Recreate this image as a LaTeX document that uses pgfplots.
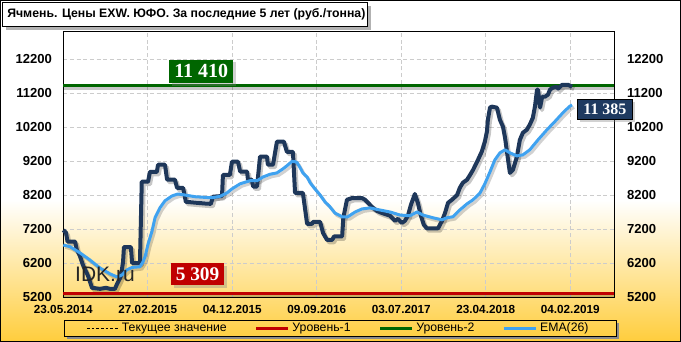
\documentclass[border=0pt]{standalone}
\usepackage{pgfplots}
\pgfplotsset{compat=1.18}
\usepackage{pgfplotstable}
\usetikzlibrary{shadows}
\usepackage{fontspec}
\setmainfont{Liberation Sans}
\newfontfamily\serifbf{Liberation Serif}
\definecolor{navy}{HTML}{1E375A}
\definecolor{ema}{HTML}{3FA2F0}
\definecolor{lvred}{HTML}{C00000}
\definecolor{lvgreen}{HTML}{006600}
\definecolor{bgy}{RGB}{255,205,60}
\definecolor{boxnavy}{HTML}{1F3A60}

\pgfplotstableread{
d v
0 7170
9 7090
14 6830
39 6830
45 6580
55 6410
65 6140
82 5820
95 5470
122 5440
141 5470
155 5440
171 5440
178 5580
185 5700
191 5820
198 6230
201 6670
224 6670
228 6200
254 6200
260 8590
281 8590
287 8880
310 8880
314 9090
337 9090
344 8650
370 8650
377 8410
397 8410
403 8150
406 8000
443 7970
470 7950
489 7940
496 8150
526 8170
529 8790
552 8790
559 9180
579 9180
586 8890
609 8890
612 8650
625 8650
629 8450
642 8450
652 9330
675 9330
678 9090
695 9090
708 9770
731 9770
741 9470
761 9470
768 8260
794 8260
808 7350
824 7350
828 7410
851 7410
861 7080
874 6880
891 6880
897 6980
924 6980
928 7530
940 8060
957 8110
990 8110
1000 8060
1010 7970
1023 7850
1040 7730
1056 7670
1083 7590
1099 7440
1109 7500
1122 7380
1132 7440
1142 7590
1152 7910
1165 8230
1175 7970
1185 7590
1195 7320
1205 7220
1242 7220
1255 7440
1265 7670
1275 7970
1288 8060
1305 8200
1314 8410
1324 8560
1338 8650
1348 8790
1358 8940
1374 9230
1387 9480
1397 9770
1404 10070
1407 10410
1414 10770
1420 10800
1437 10770
1447 10410
1457 10210
1464 9880
1474 9230
1480 8850
1490 8940
1503 9320
1513 9820
1523 10030
1536 10120
1546 10270
1556 10470
1563 10800
1570 11300
1573 11300
1580 10770
1587 11090
1596 11090
1606 11150
1613 11300
1623 11360
1636 11380
1640 11330
1653 11440
1673 11440
1686 11385
}\mainT

\pgfplotstableread{
d v
0 6730
22 6680
55 6500
88 6290
122 6050
155 5880
178 5790
195 5850
211 6000
228 6070
254 6090
264 6230
271 6390
281 6760
294 7140
304 7530
320 7820
337 8030
360 8170
380 8230
403 8200
436 8150
470 8130
493 8120
519 8160
542 8260
559 8380
586 8530
619 8620
642 8620
662 8730
685 8810
708 8850
728 8970
741 9060
758 9190
768 9180
775 9150
785 9000
794 8850
808 8730
818 8560
834 8380
851 8200
867 8000
884 7850
900 7670
924 7560
943 7560
967 7700
990 7790
1016 7820
1049 7760
1083 7700
1116 7610
1149 7590
1172 7700
1192 7610
1225 7530
1255 7470
1271 7530
1291 7560
1314 7760
1338 7940
1358 8060
1381 8260
1397 8530
1414 8880
1430 9230
1447 9440
1464 9530
1480 9440
1503 9350
1523 9380
1546 9530
1573 9820
1603 10120
1629 10360
1656 10620
1677 10800
1686 10850
}\emaT

\begin{document}
\begin{tikzpicture}
\useasboundingbox (0,0) rectangle (510.75pt,-256.5pt);
\begin{scope}[x=0.75pt,y=-0.75pt]
\fill[white] (0,0) rectangle (681,342);
\shade[top color=white, bottom color=bgy] (0,200) rectangle (681,342);
\draw[black, line width=0.75pt] (0.5,0.5) rectangle (680.5,341.5);
% title
\fill[black!30] (6,6) rectangle (371,30);
\filldraw[fill=white, draw=black, line width=0.75pt] (2.5,2.5) rectangle (367.5,26.5);
\node[anchor=west, inner sep=0pt, font=\bfseries\fontsize{9.2pt}{10pt}\selectfont] at (7,14.5) {Ячмень. Цены EXW. ЮФО. За последние 5 лет (руб./тонна)};
% legend frame
\fill[black!45] (67,336) rectangle (619,339);
\fill[black!45] (616,323) rectangle (619,339);
\draw[black, line width=0.75pt] (64,320) rectangle (616,336);
\end{scope}

\begin{axis}[
  at={(47.475pt,-222.75pt)}, anchor=south west,
  scale only axis, width=413.25pt, height=198.9pt,
  xmin=0, xmax=1826, ymin=5200, ymax=13000,
  scaled x ticks=false, scaled y ticks=false,
  xtick={0,280,...,1680},
  xticklabels={23.05.2014,27.02.2015,04.12.2015,09.09.2016,03.07.2017,23.04.2018,04.02.2019},
  ytick={5200,6200,7200,8200,9200,10200,11200,12200},
  yticklabels={5200,6200,7200,8200,9200,10200,11200,12200},
  grid=major,
  grid style={gray!40, dash pattern=on 3pt off 2pt, line width=0.5pt},
  major tick length=0pt,
  axis line style={black, line width=0.75pt},
  xticklabel style={font=\bfseries\fontsize{8.8pt}{9pt}\selectfont, yshift=-3pt},
  yticklabel style={font=\bfseries\fontsize{9.8pt}{10pt}\selectfont, xshift=-5pt},
  clip=false,
  legend style={at={(0.5,-0.1169)}, anchor=center, draw=none, fill=none,
    legend columns=4, font=\fontsize{9.2pt}{10pt}\selectfont,
    /tikz/every even column/.append style={column sep=19pt}},
  legend image code/.code={\draw[#1] (0pt,0pt) -- (24pt,0pt);},
]
% shadows
\addplot[forget plot, black, opacity=0.22, line width=2.25pt, yshift=-2.2pt] coordinates {(0,5309) (1826,5309)};
\addplot[forget plot, black, opacity=0.22, line width=2.25pt, yshift=-2.2pt] coordinates {(0,11410) (1826,11410)};
\addplot[forget plot, black, opacity=0.22, line width=3pt, xshift=1.5pt, yshift=-1.8pt, line join=round] table[x=d,y=v] {\mainT};
\addplot[forget plot, black, opacity=0.18, line width=2.25pt, xshift=1.5pt, yshift=-1.8pt, line join=round] table[x=d,y=v] {\emaT};
% series
\addplot[black, dash pattern=on 2pt off 1.5pt, line width=0.6pt] coordinates {(0,11385) (1826,11385)};
\addlegendentry{Текущее значение}
\addplot[lvred, line width=2.25pt] coordinates {(0,5309) (1826,5309)};
\addlegendentry{Уровень-1}
\addplot[lvgreen, line width=2.25pt] coordinates {(0,11410) (1826,11410)};
\addlegendentry{Уровень-2}
\addplot[forget plot, navy, line width=3pt, line join=round] table[x=d,y=v] {\mainT};
\addplot[ema, line width=2.25pt, line join=round] table[x=d,y=v] {\emaT};
\addlegendentry{EMA(26)}
% labels
\node[fill=lvgreen, text=white, font=\serifbf\bfseries\fontsize{15pt}{15pt}\selectfont, minimum width=48pt, minimum height=17.5pt, inner sep=0pt, drop shadow={opacity=0.35, shadow xshift=2pt, shadow yshift=-2pt}] at (axis cs:457,11835) {11 410};
\node[fill=lvred, text=white, font=\serifbf\bfseries\fontsize{14.5pt}{15pt}\selectfont, minimum width=40pt, minimum height=16.3pt, inner sep=0pt, drop shadow={opacity=0.35, shadow xshift=2pt, shadow yshift=-2pt}] at (axis cs:445,5877) {5 309};
\node[fill=boxnavy, draw=black, line width=0.6pt, text=white, font=\serifbf\bfseries\fontsize{12pt}{12pt}\selectfont, minimum width=41.5pt, minimum height=15pt, inner sep=0pt, drop shadow={opacity=0.35, shadow xshift=2pt, shadow yshift=-2pt}] at (axis cs:1795,10728) {11 385};
\node[anchor=base, inner sep=0pt, text=black!85, font=\fontsize{15.75pt}{16pt}\selectfont] at (axis cs:138,5642) {IDK.ru};
\end{axis}

\begin{axis}[
  at={(47.475pt,-222.75pt)}, anchor=south west,
  scale only axis, width=413.25pt, height=198.9pt,
  xmin=0, xmax=1826, ymin=5200, ymax=13000,
  scaled x ticks=false, scaled y ticks=false,
  hide x axis, axis y line*=right, axis line style={draw=none},
  ytick={5200,6200,7200,8200,9200,10200,11200,12200},
  yticklabels={5200,6200,7200,8200,9200,10200,11200,12200},
  major tick length=0pt,
  yticklabel style={font=\bfseries\fontsize{9.8pt}{10pt}\selectfont, xshift=6pt},
]
\addplot[draw=none, forget plot] coordinates {(0,6000)};
\end{axis}
\end{tikzpicture}
\end{document}
